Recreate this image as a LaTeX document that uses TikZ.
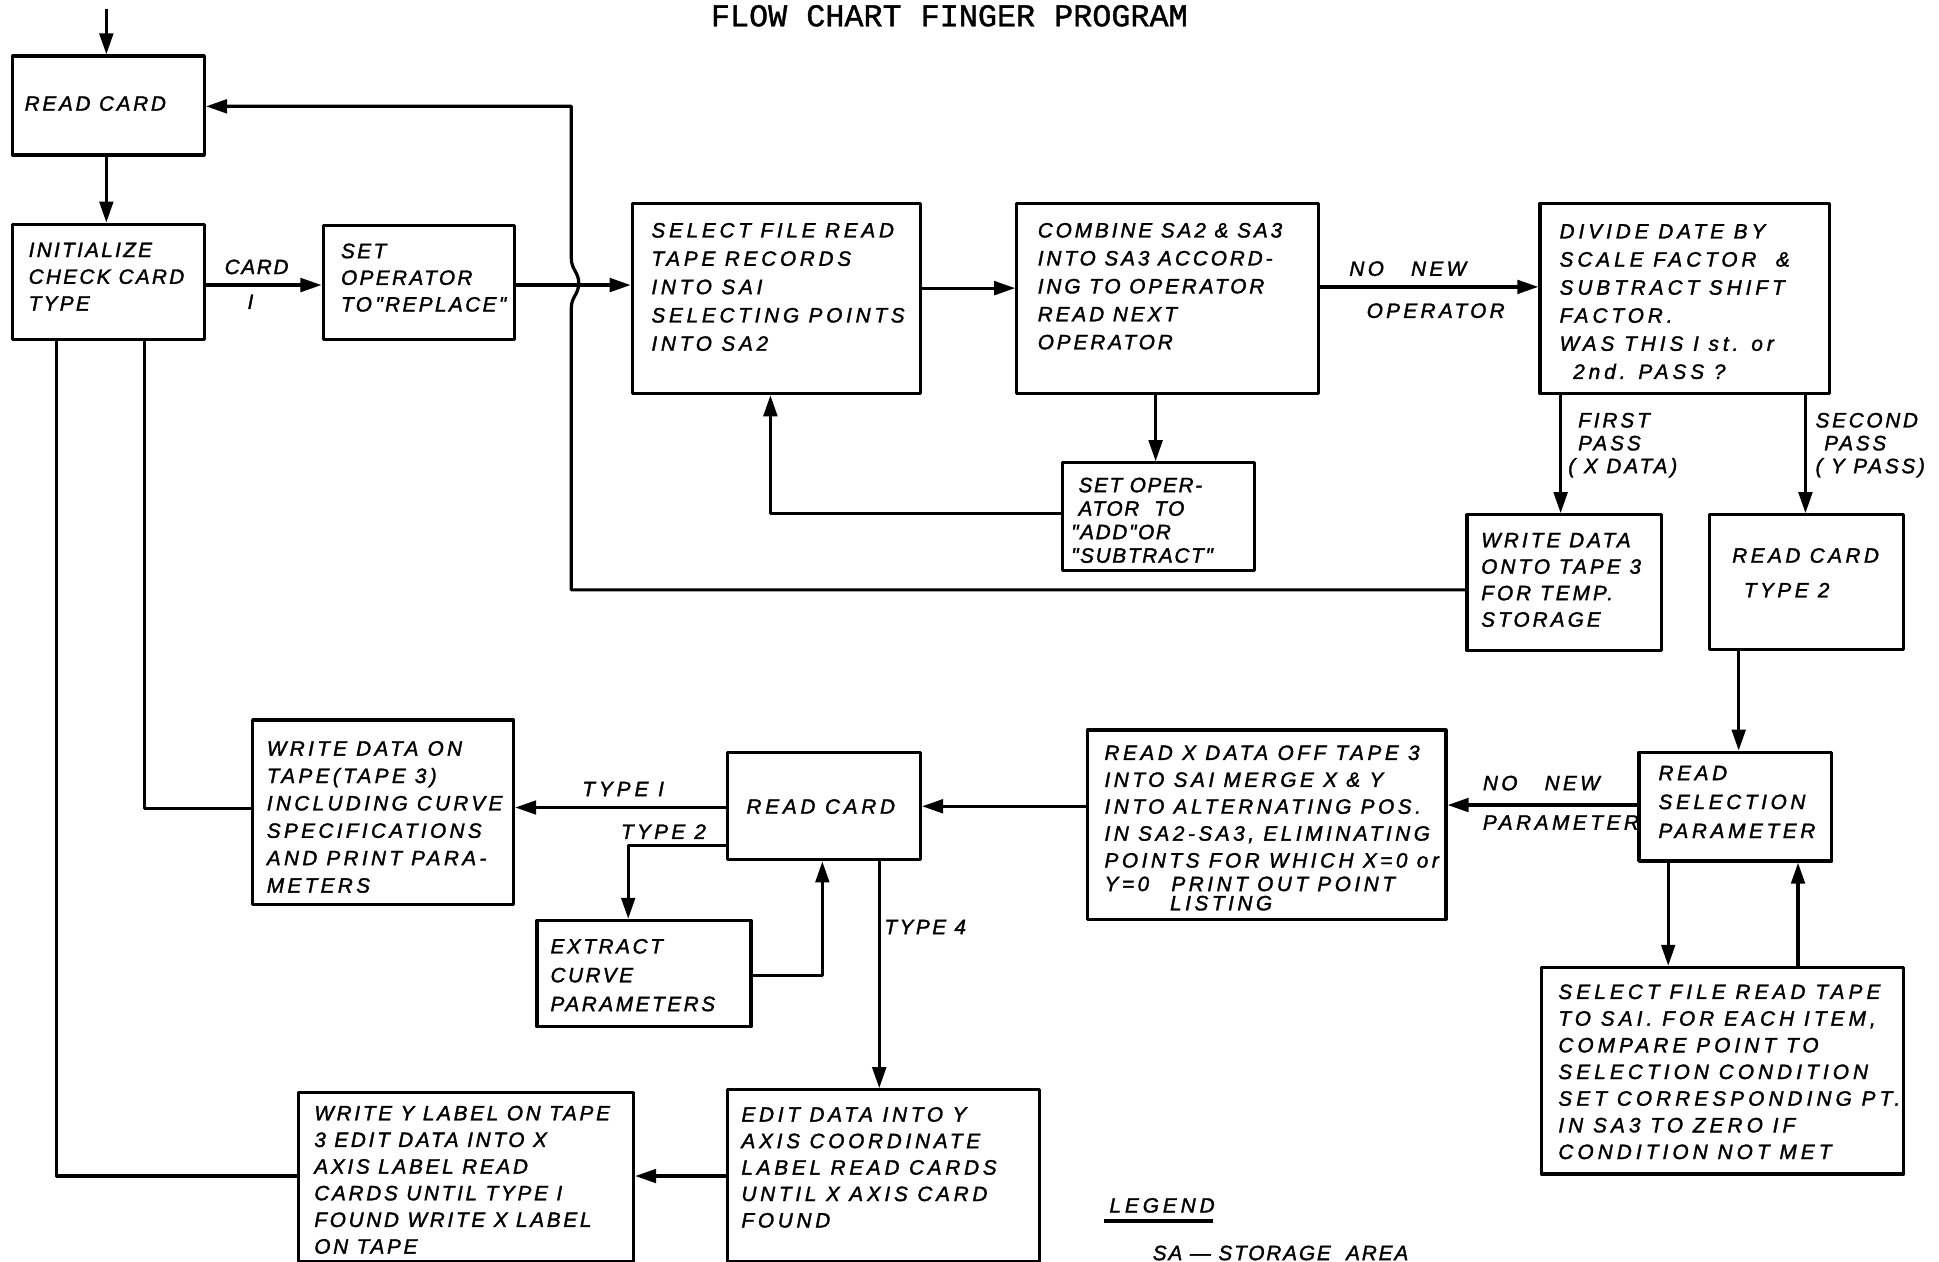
\documentclass[tikz,border=0pt]{standalone}
\usepackage{fontspec}
\usetikzlibrary{arrows.meta}
\newfontfamily\leroy[FakeBold=1.6]{Liberation Sans}
\newfontfamily\ttlfont[FakeBold=1.2]{Liberation Mono}
\tikzset{
  bx/.style 2 args={draw, line width=2.6pt, line join=round, inner sep=0pt,
    anchor=north west, minimum width=#1pt, minimum height=#2pt},
  txt/.style 2 args={font={\leroy\itshape\fontsize{16.8}{#1}\selectfont\addfontfeatures{LetterSpace=#2}},
    align=left, inner sep=0pt, anchor=north west},
  wire/.style={line width=2.6pt, line join=round},
  arr/.style={wire, -{Triangle[length=17pt,width=11pt]}}
}
\begin{document}
\begin{tikzpicture}[x=1pt,y=-1pt]
\useasboundingbox (0,0) rectangle (1568,1020.5);
\node[font=\ttlfont\fontsize{25.7}{30}\selectfont, inner sep=0pt] (title) at (767.7,12.8) {FLOW CHART FINGER PROGRAM};

% boxes
\node[bx={155}{80}] (b1) at (9,44) {};
\node[bx={155}{93}] (b2) at (9,180) {};
\node[bx={155}{92}] (b3) at (260,181) {};
\node[bx={233}{154}] (b4) at (510,163) {};
\node[bx={244}{154}] (b5) at (821,163) {};
\node[bx={234}{154}] (b6) at (1244,163) {};
\node[bx={155}{87}] (b7) at (858,373) {};
\node[bx={157}{110}] (b8) at (1185,415) {};
\node[bx={157}{109}] (b9) at (1381,415) {};
\node[bx={156}{88}] (b10) at (1324,607) {};
\node[bx={293}{167}] (b11) at (1245,781) {};
\node[bx={290}{153}] (b12) at (878,589) {};
\node[bx={156}{87}] (b13) at (587,607) {};
\node[bx={211}{149}] (b14) at (203,581) {};
\node[bx={173}{86}] (b15) at (433,743) {};
\node[bx={252}{138.5}] (b16) at (587,880) {};
\node[bx={271}{137}] (b17) at (240,882) {};

% box texts
\node[txt={22}{13}] (t1) at (19.8,77.6) {READ CARD};
\node[txt={21.65}{11}] (t2) at (23,196.1) {INITIALIZE\\CHECK CARD\\TYPE};
\node[txt={21.6}{11.5}] (t3) at (275.6,196.8) {SET\\OPERATOR\\TO\,"REPLACE"};
\node[txt={22.9}{18}] (t4) at (526.6,180.1) {SELECT FILE READ\\TAPE RECORDS\\INTO SAI\\SELECTING POINTS\\INTO SA2};
\node[txt={22.6}{14}] (t5) at (839,180.1) {COMBINE SA2 \& SA3\\INTO SA3 ACCORD-\\ING TO OPERATOR\\READ NEXT\\OPERATOR};
\node[txt={22.7}{19}] (t6) at (1261,181.1) {DIVIDE DATE BY\\SCALE FACTOR \ \&\\SUBTRACT SHIFT\\FACTOR.\\WAS THIS I st. or\\\hspace*{11pt}2nd. PASS ?};
\node[txt={19}{8}] (t7) at (866,386.1) {\hspace*{6pt}SET OPER-\\\hspace*{6pt}ATOR \ TO\\"ADD"OR\\"SUBTRACT"};
\node[txt={21.4}{14.7}] (t8) at (1197.6,430.8) {WRITE DATA\\ONTO TAPE 3\\FOR TEMP.\\STORAGE};
\node[txt={28}{16.8}] (t9) at (1400.6,443.1) {READ CARD\\\hspace*{9.4pt}TYPE 2};
\node[txt={23.4}{17.5}] (t10) at (1341,619.1) {READ\\SELECTION\\PARAMETER};
\node[txt={21.57}{19.7}] (t11) at (1260,795.9) {SELECT FILE READ TAPE\\TO SAI. FOR EACH ITEM,\\COMPARE POINT TO\\SELECTION CONDITION\\SET CORRESPONDING PT.\\IN SA3 TO ZERO IF\\CONDITION NOT MET};
\node[txt={21.75}{17}] (t12) at (893,602.6) {READ X DATA OFF TAPE 3\\INTO SAI MERGE X \& Y\\INTO ALTERNATING POS.\\IN SA2-SA3, ELIMINATING\\POINTS FOR WHICH X=0 or\\[-2.7pt]Y=0\hspace{18pt}PRINT OUT POINT\\[-6.2pt]\hspace*{53pt}LISTING};
\node[txt={22}{18}] (t13) at (603.5,646.1) {READ CARD};
\node[txt={22.16}{16}] (t14) at (215.6,599.1) {WRITE DATA ON\\TAPE(TAPE 3)\\INCLUDING CURVE\\SPECIFICATIONS\\AND PRINT PARA-\\METERS};
\node[txt={23.3}{12.3}] (t15) at (445,759.1) {EXTRACT\\CURVE\\PARAMETERS};
\node[txt={21.4}{18}] (t16) at (599.4,895.1) {EDIT DATA INTO Y\\AXIS COORDINATE\\LABEL READ CARDS\\UNTIL X AXIS CARD\\FOUND};
\node[txt={21.56}{13}] (t17) at (254,894) {WRITE Y LABEL ON TAPE\\3 EDIT DATA INTO X\\AXIS LABEL READ\\CARDS UNTIL TYPE I\\FOUND WRITE X LABEL\\ON TAPE};

% connector labels
\node[txt={22}{8}] (lcard) at (181.5,209.7) {CARD};
\node[txt={22}{8}] (lone) at (200,238.1) {I};
\node[txt={22}{16}] (lnonew1) at (1091,211.1) {NO\hspace{22pt}NEW};
\node[txt={22}{16}] (loper) at (1105,245.1) {OPERATOR};
\node[txt={18.5}{14}] (lfirst) at (1268,333.7) {\hspace*{8pt}FIRST\\\hspace*{8pt}PASS\\( X DATA)};
\node[txt={18.5}{13}] (lsecond) at (1468,333.7) {SECOND\\\hspace*{7pt}PASS\\( Y PASS)};
\node[txt={22}{16}] (lnonew2) at (1199,627.1) {NO\hspace{22pt}NEW};
\node[txt={22}{17}] (lparam) at (1199,659.1) {PARAMETER};
\node[txt={22}{19}] (ltype1) at (470.7,632.1) {TYPE I};
\node[txt={22}{16}] (ltype2) at (502,666.4) {TYPE 2};
\node[txt={22}{12}] (ltype4) at (715,743.6) {TYPE 4};
\node[txt={22}{19}] (llegend) at (897,968.6) {LEGEND};
\node[txt={22}{9}] (lsa) at (932,1007.1) {SA — STORAGE \ AREA};
\draw[line width=3pt] (893,987.5) -- (981,987.5);

% helper coordinates
\coordinate (start) at (86,7);
\coordinate (yA) at (0,230.5);
\coordinate (yB) at (0,233);
\coordinate (yB2) at (0,232);
\coordinate (yR) at (0,477);
\coordinate (yT) at (0,86);
\coordinate (xJ) at (462,0);
\coordinate (x935) at (934.5,0);
\coordinate (y415) at (0,415);
\coordinate (x623) at (623,0);
\coordinate (x1262) at (1262,0);
\coordinate (x1459) at (1460,0);
\coordinate (x1406) at (1406,0);
\coordinate (x1349) at (1349,0);
\coordinate (x1454) at (1454,0);
\coordinate (y651) at (0,651);
\coordinate (y652) at (0,652);
\coordinate (y653) at (0,653);
\coordinate (y684) at (0,684);
\coordinate (x508) at (508,0);
\coordinate (y789) at (0,789);
\coordinate (x665) at (665,0);
\coordinate (x711) at (711,0);
\coordinate (y951) at (0,951);
\coordinate (x46) at (46,0);
\coordinate (x117) at (117,0);
\coordinate (y654) at (0,654);

% connectors
\draw[arr] (start) -- (start |- b1.north);
\draw[arr] (start |- b1.south) -- (start |- b2.north);
\draw[arr] (b2.east |- yA) -- (b3.west |- yA);
\draw[arr] (b3.east |- yA) -- (b4.west |- yA);
\draw[arr] (b8.west |- yR) -- (xJ |- yR) -- (462,249)
   .. controls (462,240) and (468,238) .. (468,229)
   .. controls (468,220) and (462,218) .. (462,209)
   -- (xJ |- yT) -- (b1.east |- yT);
\draw[arr] (b4.east |- yB) -- (b5.west |- yB);
\draw[arr] (b5.east |- yB2) -- (b6.west |- yB2);
\draw[arr] (b5.south -| x935) -- (b7.north -| x935);
\draw[arr] (b7.west |- y415) -- (x623 |- y415) -- (x623 |- b4.south);
\draw[arr] (b6.south -| x1262) -- (b8.north -| x1262);
\draw[arr] (b6.south -| x1459) -- (b9.north -| x1459);
\draw[arr] (b9.south -| x1406) -- (b10.north -| x1406);
\draw[arr] (b10.south -| x1349) -- (b11.north -| x1349);
\draw[arr] (b11.north -| x1454) -- (b10.south -| x1454);
\draw[arr] (b10.west |- y651) -- (b12.east |- y651);
\draw[arr] (b12.west |- y652) -- (b13.east |- y652);
\draw[arr] (b13.west |- y653) -- (b14.east |- y653);
\draw[arr] (b13.west |- y684) -- (x508 |- y684) -- (x508 |- b15.north);
\draw[arr] (b15.east |- y789) -- (x665 |- y789) -- (x665 |- b13.south);
\draw[arr] (b13.south -| x711) -- (b16.north -| x711);
\draw[arr] (b16.west |- y951) -- (b17.east |- y951);
\draw[wire] (b17.west |- y951) -- (x46 |- y951) -- (x46 |- b2.south);
\draw[wire] (b14.west |- y654) -- (x117 |- y654) -- (x117 |- b2.south);
\end{tikzpicture}
\end{document}
